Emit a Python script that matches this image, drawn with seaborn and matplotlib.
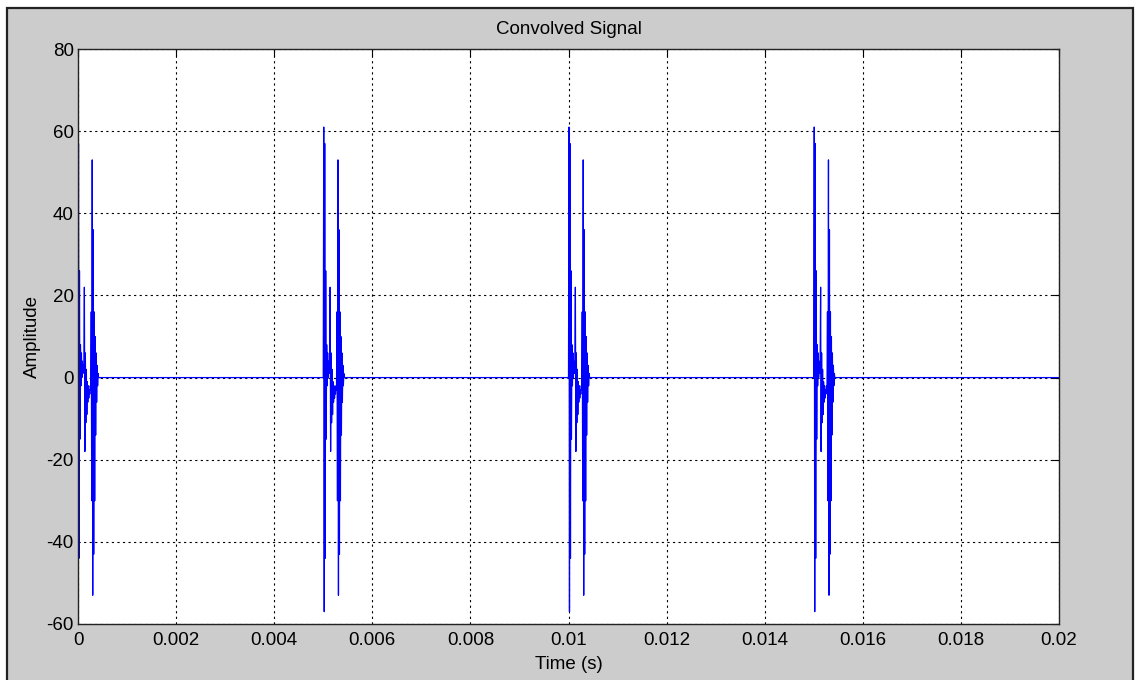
import numpy as np
import pandas as pd
import matplotlib
matplotlib.use("Agg")
import matplotlib.pyplot as plt
from matplotlib.patches import Rectangle
import seaborn as sns

sample_step = 1e-5
burst_amp = [0, 61, -57, 57, -44, 26, -15, 8, -2, 6, 0, 4, 1, 3,
             22, -18, 6, -11, 2, -9, -1, -6, -2, -5, -3, -4, -2, -3,
             16, -30, 53, -53, 36, -43, 16, -30, 10, -14, 6, -6, 3, -2, 1, 0]
# first burst has no outer +61/-57 spike
first_burst_amp = [0, 57, -44, 26, -15, 8, -2, 6, 0, 4, 1, 3, 2,
                   22, -18, 6, -11, 2, -9, -1, -6, -2, -5, -3, -4, -2, -3,
                   16, -30, 53, -53, 36, -43, 16, -30, 10, -14, 6, -6, 3, -2, 1, 0]
burst_starts = [0.0, 0.005, 0.010, 0.015]
t_end = 0.02

x_ticks = [0, 0.002, 0.004, 0.006, 0.008, 0.01, 0.012, 0.014, 0.016, 0.018, 0.02]
x_tick_labels = ["0", "0.002", "0.004", "0.006", "0.008", "0.01", "0.012",
                 "0.014", "0.016", "0.018", "0.02"]
y_ticks = [-60, -40, -20, 0, 20, 40, 60, 80]


def main():
    times = []
    amps = []
    for k, start in enumerate(burst_starts):
        vals = first_burst_amp if k == 0 else burst_amp
        for i, v in enumerate(vals):
            times.append(start + i * sample_step)
            amps.append(v)
    times.append(t_end)
    amps.append(0)
    df = pd.DataFrame({"Time (s)": times, "Amplitude": amps})

    sns.set_style("white")
    plt.rcParams["font.family"] = ["Liberation Sans", "DejaVu Sans"]
    plt.rcParams["font.size"] = 13.5
    plt.rcParams["axes.unicode_minus"] = False
    plt.rcParams["text.color"] = "black"
    plt.rcParams["axes.labelcolor"] = "black"

    fig = plt.figure(figsize=(11.35, 6.8), dpi=100)
    fig.patch.set_facecolor("white")
    # grey MATLAB-like figure panel with dark frame
    fig.patches.append(Rectangle((7 / 1135, -0.02), 1126 / 1135, (680 - 8) / 680 + 0.02,
                                 transform=fig.transFigure, facecolor="#cccccc",
                                 edgecolor="#222222", linewidth=1.6, zorder=-10))

    ax = fig.add_axes([78 / 1135, 56 / 680, 981 / 1135, 575 / 680])
    ax.set_facecolor("white")

    sns.lineplot(data=df, x="Time (s)", y="Amplitude", ax=ax, color="#0000ff",
                 linewidth=0.9, sort=False, estimator=None)

    ax.set_xlim(0, 0.02)
    ax.set_ylim(-60, 80)
    ax.set_xticks(x_ticks)
    ax.set_xticklabels(x_tick_labels)
    ax.set_yticks(y_ticks)
    ax.grid(True, color="black", linestyle=(0, (2, 3)), linewidth=0.8)
    ax.tick_params(direction="in", length=5, width=0.8, top=True, right=True,
                   labelsize=13.5, colors="black", labelcolor="black")
    ax.tick_params(axis="x", pad=6)
    ax.tick_params(axis="y", pad=3)
    for s in ax.spines.values():
        s.set_color("#222222")
        s.set_linewidth(1.0)

    ax.set_title("Convolved Signal", fontsize=13.5, pad=11, color="black")
    ax.set_xlabel("Time (s)", fontsize=13.5, labelpad=5, color="black")
    ax.set_ylabel("Amplitude", fontsize=13.5, labelpad=4, color="black")

    fig.savefig("out.png", dpi=100)


if __name__ == "__main__":
    main()
